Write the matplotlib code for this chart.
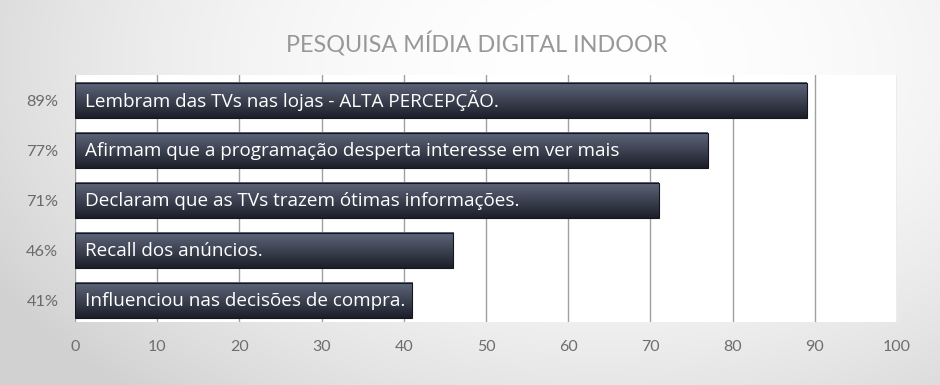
import numpy as np
import matplotlib.pyplot as plt
from matplotlib.patches import Rectangle

# dados da pesquisa
labels = ['Lembram das TVs nas lojas - ALTA PERCEPÇÃO.',
          'Afirmam que a programação desperta interesse em ver mais',
          'Declaram que as TVs trazem ótimas informações.',
          'Recall dos anúncios.',
          'Influenciou nas decisões de compra.']
values = [89, 77, 71, 46, 41]
pct_labels = ['89%', '77%', '71%', '46%', '41%']
xticks = [0, 10, 20, 30, 40, 50, 60, 70, 80, 90, 100]

fig = plt.figure(figsize=(9.4, 3.85), dpi=100)

# fundo com gradiente radial
bg = fig.add_axes([0, 0, 1, 1], zorder=-10)
yy, xx = np.mgrid[0:385, 0:940]
d = np.sqrt(((xx - 600) / 600.0) ** 2 + ((yy - 60) / 380.0) ** 2)
g = np.clip(1.0 - 0.13 * d ** 2.0, 0.82, 1.0)
bg.imshow(np.dstack([g, g, g]), aspect='auto', extent=[0, 1, 0, 1])
bg.axis('off')

ax = fig.add_axes([0.0798, 0.1636, 0.8745, 0.6416])
ax.set_facecolor('white')
ax.set_xlim(0, 100)
ax.set_ylim(-0.43, 4.51)

for x in xticks:
    ax.axvline(x, color='#a0a0a0', lw=1.0, zorder=1)

ypos = np.arange(len(values))[::-1]
h = 0.7
grad = np.linspace(0, 1, 64).reshape(-1, 1)
top = np.array([0x5e, 0x66, 0x7a]) / 255.0
bot = np.array([0x1c, 0x1f, 0x2a]) / 255.0
for y, v, lab in zip(ypos, values, labels):
    col = bot[None, None, :] * grad[:, :, None] + top[None, None, :] * (1 - grad[:, :, None])
    ax.imshow(col, aspect='auto', extent=[0, v, y - h / 2, y + h / 2],
              origin='upper', zorder=2, interpolation='bilinear')
    ax.add_patch(Rectangle((0, y - h / 2), v, h, fill=False,
                           edgecolor='#15171e', lw=0.8, zorder=3))
    ax.text(1.2, y, lab, color='white', fontsize=13.6, family='Open Sans',
            va='center', ha='left', zorder=4)

ax.set_xticks(xticks)
ax.set_xticklabels([str(x) for x in xticks], family='Lato', fontsize=11.5,
                   color='#6e6e6e')
ax.set_yticks(ypos)
ax.set_yticklabels(pct_labels, family='Lato', fontsize=11.8, color='#6a6a6a')
ax.tick_params(length=0, pad=12)
ax.tick_params(axis='x', pad=13)
for s in ax.spines.values():
    s.set_visible(False)

fig.text(0.5075, 0.885, 'PESQUISA MÍDIA DIGITAL INDOOR', ha='center', va='center',
         fontsize=16.8, color='#989898', family='Lato')

fig.savefig('out.png', dpi=100)
